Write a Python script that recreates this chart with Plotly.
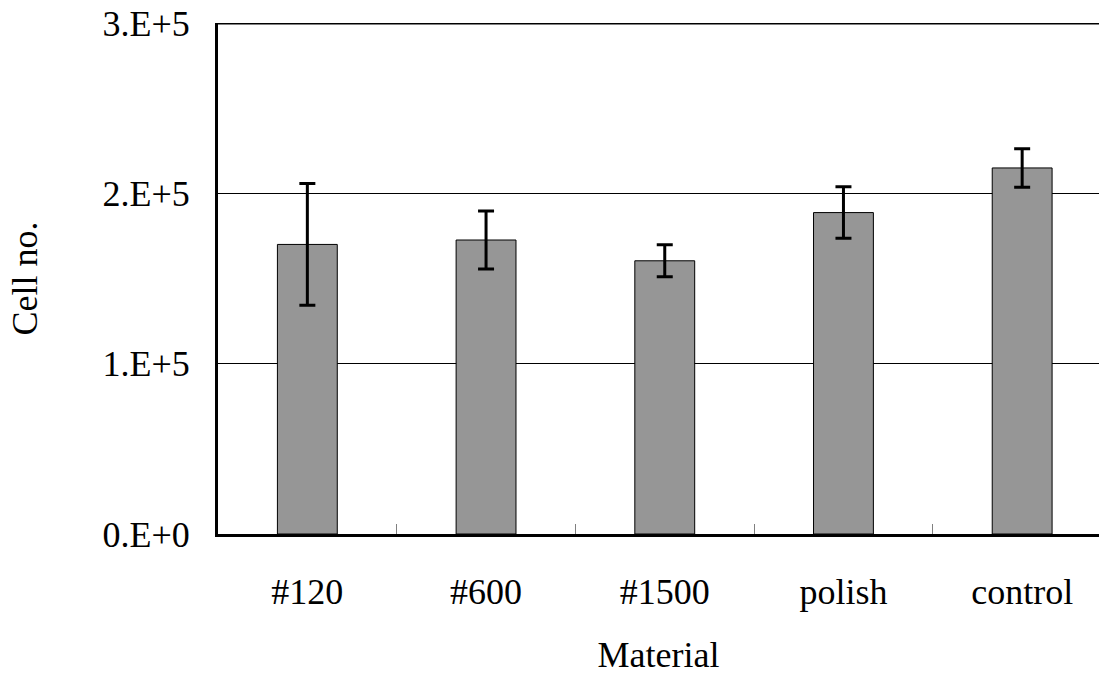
import plotly.graph_objects as go

# Cell counts per surface finish (mean and error)
materials = ["#120", "#600", "#1500", "polish", "control"]
cell_counts = [1.70e5, 1.726e5, 1.604e5, 1.887e5, 2.149e5]
cell_errors = [0.357e5, 0.17e5, 0.094e5, 0.151e5, 0.113e5]

y_tick_vals = [0, 1e5, 2e5, 3e5]
y_tick_text = ["0.E+0", "1.E+5", "2.E+5", "3.E+5"]

FONT = "Liberation Serif, Times New Roman, serif"

fig = go.Figure(
    go.Bar(
        x=materials,
        y=cell_counts,
        width=0.335,
        marker=dict(color="#969696", line=dict(color="black", width=1)),
        error_y=dict(type="data", array=cell_errors, color="black",
                     thickness=3, width=8),
    )
)

fig.update_layout(
    width=1099,
    height=688,
    margin=dict(l=218, r=0, t=23, b=154),
    plot_bgcolor="white",
    paper_bgcolor="white",
    showlegend=False,
    font=dict(family=FONT, size=36, color="black"),
    shapes=[
        # heavy frame line along the top of the plotting area
        dict(type="line", xref="paper", yref="y", x0=0, x1=1,
             y0=3e5, y1=3e5, line=dict(color="black", width=3)),
    ],
)

fig.update_xaxes(
    type="category",
    range=[-0.5, 4.43],
    showline=True,
    linecolor="black",
    linewidth=3,
    ticks="inside",
    tickson="boundaries",
    ticklen=10,
    tickwidth=1,
    tickcolor="#808080",
    showgrid=False,
    ticklabelstandoff=24,
    tickfont=dict(family=FONT, size=36),
    title=dict(text="Material", font=dict(family=FONT, size=36), standoff=31),
)

fig.update_yaxes(
    range=[0, 3e5],
    tickvals=y_tick_vals,
    ticktext=y_tick_text,
    showline=True,
    linecolor="black",
    linewidth=3,
    ticks="",
    showgrid=True,
    gridcolor="black",
    gridwidth=1,
    zeroline=False,
    ticklabelstandoff=18,
    tickfont=dict(family=FONT, size=36),
    title=dict(text="Cell no.", font=dict(family=FONT, size=36), standoff=54),
)

fig.write_html("out.html")
